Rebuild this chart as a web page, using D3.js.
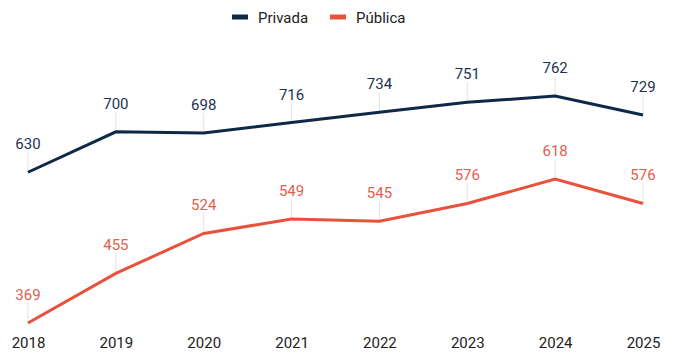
<!DOCTYPE html>
<html lang='en'>
  <head>
    <meta charset='utf-8'>
    <style>
      body { margin: 0; background: #fff; }
      svg { display: block; font-family: Roboto, 'Noto Sans', sans-serif; }
    </style>
  </head>
  <body>
    <div id='chart'></div>
    <script src='https://cdn.jsdelivr.net/npm/d3@7'></script>
    <script>
      var years = ['2018', '2019', '2020', '2021', '2022', '2023', '2024', '2025'];
      var privada = [630, 700, 698, 716, 734, 751, 762, 729];
      var publica = [369, 455, 524, 549, 545, 576, 618, 576];

      var seriesNames = ['Privada', 'Pública'];
      var lineColors = ['#0e2848', '#e8513b'];
      var textColors = ['#1c3452', '#e2604b'];

      var width = 677, height = 362;

      var svg = d3.select('#chart').append('svg')
          .attr('width', width)
          .attr('height', height);

      var x = d3.scalePoint()
          .domain(years)
          .range([28, 643]);

      var y = d3.scaleLinear()
          .domain([369, 762])
          .range([323, 96]);

      // year labels along the bottom, no axis line
      var xAxis = svg.append('g')
          .attr('transform', 'translate(0,337)')
          .call(d3.axisBottom(x).tickSize(0).tickPadding(0));
      xAxis.select('.domain').remove();
      xAxis.selectAll('text')
          .attr('dy', '0.71em')
          .attr('fill', '#222')
          .style('font-size', '15px')
          .style('font-family', 'Roboto, sans-serif');

      var line = d3.line()
          .x(function (d, i) { return x(years[i]); })
          .y(function (d) { return y(d); });

      [privada, publica].forEach(function (vals, s) {
        var g = svg.append('g');

        // leader lines
        g.selectAll('line.lead')
            .data(vals)
          .enter().append('line')
            .attr('class', 'lead')
            .attr('x1', function (d, i) { return x(years[i]); })
            .attr('x2', function (d, i) { return x(years[i]); })
            .attr('y1', function (d) { return y(d); })
            .attr('y2', function (d) { return y(d) - 20; })
            .attr('stroke', '#e3e3e3')
            .attr('stroke-width', 1);

        g.append('path')
            .datum(vals)
            .attr('d', line)
            .attr('fill', 'none')
            .attr('stroke', lineColors[s])
            .attr('stroke-width', 3)
            .attr('stroke-linejoin', 'miter');

        g.selectAll('text.val')
            .data(vals)
          .enter().append('text')
            .attr('class', 'val')
            .attr('x', function (d, i) { return x(years[i]); })
            .attr('y', function (d) { return y(d) - 23; })
            .attr('text-anchor', 'middle')
            .attr('fill', textColors[s])
            .style('font-size', '15px')
            .text(function (d) { return d; });
      });

      // legend
      var legend = svg.append('g').attr('transform', 'translate(232,17)');
      var items = legend.selectAll('g')
          .data(seriesNames)
        .enter().append('g')
          .attr('transform', function (d, i) { return 'translate(' + (i * 98) + ',0)'; });
      items.append('rect')
          .attr('x', 0)
          .attr('y', -2.5)
          .attr('width', 16)
          .attr('height', 5)
          .attr('fill', function (d, i) { return lineColors[i]; });
      items.append('text')
          .attr('x', 26)
          .attr('y', 5.5)
          .attr('fill', '#222')
          .style('font-size', '15px')
          .text(function (d) { return d; });
    </script>
  </body>
</html>
